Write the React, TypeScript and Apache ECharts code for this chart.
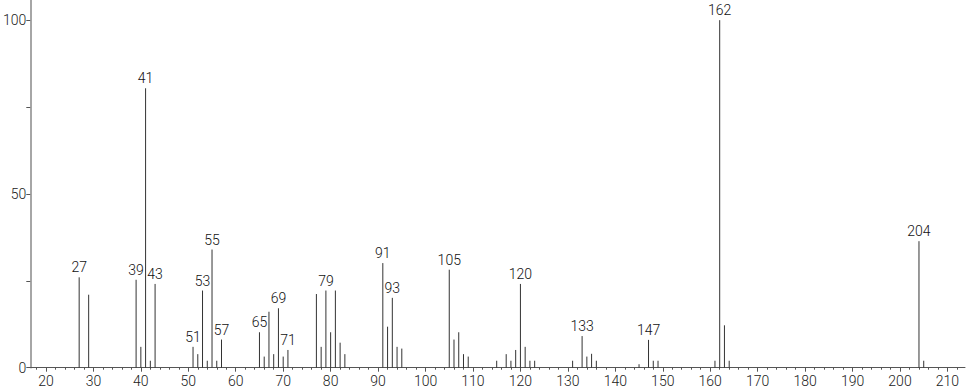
import React, { useEffect, useRef } from "react";
import * as echarts from "echarts";

const mz = [27, 29, 39, 40, 41, 42, 43, 51, 52, 53, 54, 55, 56, 57, 65, 66, 67, 68, 69, 70, 71, 77, 78, 79, 80, 81, 82, 83, 91, 92, 93, 94, 95, 105, 106, 107, 108, 109, 115, 117, 118, 119, 120, 121, 122, 123, 131, 133, 134, 135, 136, 145, 147, 148, 149, 161, 162, 163, 164, 204, 205];
const intensity = [26, 21, 25.3, 6, 80.4, 2, 24.1, 6, 3.9, 22.2, 2, 34, 2, 8.1, 10.2, 3.2, 16.1, 3.9, 17.1, 3.2, 5.1, 21.2, 6, 22.2, 10.2, 22.2, 7.2, 3.9, 30.1, 11.8, 20.1, 6, 5.5, 28.2, 8.1, 10.2, 3.9, 3.2, 2, 3.9, 2, 5.1, 24.1, 6, 2, 2, 2, 9.1, 3.2, 4, 2, 1, 8, 2, 2, 2, 100, 12.2, 2, 36.4, 2];
const labeledPeaks = [27, 39, 41, 43, 51, 53, 55, 57, 65, 69, 71, 79, 91, 93, 105, 120, 133, 147, 162, 204];
const xTickLabels = [20, 30, 40, 50, 60, 70, 80, 90, 100, 110, 120, 130, 140, 150, 160, 170, 180, 190, 200, 210];
const yTickValues = [0, 25, 50, 75, 100];
const yTickLabels = [0, 50, 100];

const minorTicks: number[] = [];
for (let v = 18; v <= 212; v += 2) if (v % 10 !== 0) minorTicks.push(v);

const FONT = "Roboto, 'DejaVu Sans', sans-serif";
const X_MIN = 16.7;
const X_MAX = 213.7;

export default function App() {
  const ref = useRef<HTMLDivElement>(null);
  useEffect(() => {
    if (!ref.current) return;
    const chart = echarts.init(ref.current, undefined, { renderer: "svg" });
    const data = mz.map((m, i) => [m, intensity[i], labeledPeaks.includes(m) ? 1 : 0]);
    chart.setOption({
      animation: false,
      grid: { left: 29, right: 1, top: 0, bottom: 21.3, containLabel: false },
      xAxis: [
        {
          type: "value",
          min: X_MIN,
          max: X_MAX,
          axisLine: { show: true, lineStyle: { color: "#555", width: 1 } },
          axisTick: { show: true, length: 4, customValues: xTickLabels, lineStyle: { color: "#555" } },
          axisLabel: {
            show: true,
            customValues: xTickLabels,
            margin: 6,
            fontSize: 14,
            fontWeight: 300,
            color: "#222",
            fontFamily: FONT,
          },
          splitLine: { show: false },
        },
        {
          type: "value",
          min: X_MIN,
          max: X_MAX,
          position: "bottom",
          axisLine: { show: false },
          axisTick: { show: true, length: 2, customValues: minorTicks, lineStyle: { color: "#555" } },
          axisLabel: { show: false },
          splitLine: { show: false },
        },
      ],
      yAxis: {
        type: "value",
        min: 0,
        max: 105.8,
        axisLine: { show: true, lineStyle: { color: "#888", width: 1.5 } },
        axisTick: { show: true, length: 4, customValues: yTickValues, lineStyle: { color: "#555" } },
        axisLabel: {
          show: true,
          customValues: yTickLabels,
          margin: 4,
          fontSize: 14,
          fontWeight: 300,
          color: "#222",
          fontFamily: FONT,
        },
        splitLine: { show: false },
      },
      series: [
        {
          type: "custom",
          xAxisIndex: 0,
          yAxisIndex: 0,
          data,
          clip: false,
          renderItem: (params: any, api: any) => {
            const x = api.value(0);
            const y = api.value(1);
            const lab = api.value(2);
            const p0 = api.coord([x, 0]);
            const p1 = api.coord([x, y]);
            const children: any[] = [
              {
                type: "line",
                shape: { x1: p0[0], y1: p0[1], x2: p1[0], y2: p1[1] },
                style: { stroke: "#333", lineWidth: 1 },
              },
            ];
            if (lab) {
              children.push({
                type: "text",
                x: p1[0],
                y: p1[1] - 3,
                style: {
                  text: String(x),
                  align: "center",
                  verticalAlign: "bottom",
                  fontSize: 14,
                  fontWeight: 300,
                  fontFamily: FONT,
                  fill: "#111",
                },
              });
            }
            return { type: "group", children };
          },
        },
      ],
    });
    return () => chart.dispose();
  }, []);
  return (
    <div
      ref={ref}
      style={{ position: "fixed", left: 0, top: 0, width: 966, height: 389, background: "#fff" }}
    />
  );
}
